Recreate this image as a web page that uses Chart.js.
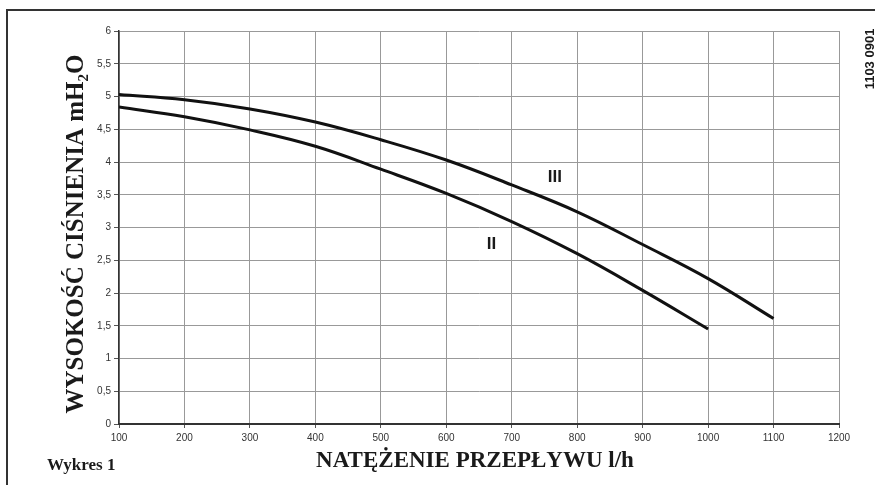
<!DOCTYPE html>
<html>
<head>
<meta charset="utf-8">
<script src="https://cdn.jsdelivr.net/npm/chart.js@4/dist/chart.umd.min.js"></script>
<style>
  html, body { margin: 0; padding: 0; background: #fff; }
  #wrap { width: 875px; height: 485px; }
</style>
</head>
<body>
<div id="wrap"><canvas id="chart" width="875" height="485"></canvas></div>
<script>
// natężenie przepływu (l/h) i wysokość ciśnienia (mH2O)
const flowII = [100, 200, 300, 400, 500, 600, 700, 800, 900, 1000];
const headII = [4.84, 4.69, 4.49, 4.24, 3.89, 3.52, 3.09, 2.60, 2.04, 1.45];

const flowIII = [100, 200, 300, 400, 500, 600, 700, 800, 900, 1000, 1100];
const headIII = [5.03, 4.95, 4.81, 4.61, 4.34, 4.03, 3.65, 3.24, 2.74, 2.22, 1.61];

const curveNames = ['II', 'III'];
const curveLabelX = [669, 766];
const curveLabelY = [2.75, 3.77];

const xMin = 100, xMax = 1200, xStep = 100;
const yMin = 0, yMax = 6, yStep = 0.5;

const xTitle = 'NATĘŻENIE PRZEPŁYWU l/h';
const yTitle = ['WYSOKOŚĆ CIŚNIENIA mH', '2', 'O'];
const chartName = 'Wykres 1';
const docCode = '1103 0901';

const serif = '"Liberation Serif", "DejaVu Serif", serif';
const sans = '"Liberation Sans", Arial, sans-serif';

function toPoints(xs, ys) {
  return xs.map((x, i) => ({ x: x, y: ys[i] }));
}

// napisy, ramka, etykiety krzywych
const textPlugin = {
  id: 'texts',
  afterDraw(chart) {
    const c = chart.ctx;
    const sx = chart.scales.x;
    const sy = chart.scales.y;
    c.save();

    // ramka
    c.strokeStyle = '#333';
    c.lineWidth = 2;
    c.beginPath();
    c.moveTo(7, 485);
    c.lineTo(7, 10);
    c.lineTo(875, 10);
    c.stroke();

    c.fillStyle = '#1a1a1a';

    // tytuł osi X
    c.font = 'bold 23px ' + serif;
    c.textAlign = 'center';
    c.textBaseline = 'alphabetic';
    c.fillText(xTitle, 475, 467);

    // Wykres 1
    c.font = 'bold 17px ' + serif;
    c.textAlign = 'left';
    c.fillText(chartName, 47, 470);

    // tytuł osi Y z indeksem dolnym
    c.save();
    c.translate(83, 0);
    c.rotate(-Math.PI / 2);
    const big = 'bold 25px ' + serif;
    const small = 'bold 15px ' + serif;
    c.font = big;
    const w1 = c.measureText(yTitle[0]).width;
    const w3 = c.measureText(yTitle[2]).width;
    c.font = small;
    const w2 = c.measureText(yTitle[1]).width;
    const total = w1 + w2 + w3;
    let pos = -234 - total / 2;
    c.textAlign = 'left';
    c.font = big;
    c.fillText(yTitle[0], pos, 0);
    pos += w1;
    c.font = small;
    c.fillText(yTitle[1], pos, 5);
    pos += w2;
    c.font = big;
    c.fillText(yTitle[2], pos, 0);
    c.restore();

    // kod rysunku
    c.save();
    c.translate(874, 59);
    c.rotate(-Math.PI / 2);
    c.font = 'bold 13px ' + sans;
    c.textAlign = 'center';
    c.fillText(docCode, 0, 0);
    c.restore();

    // etykiety krzywych
    c.font = 'bold 17px ' + sans;
    c.textAlign = 'center';
    c.textBaseline = 'middle';
    curveNames.forEach((name, i) => {
      c.fillText(name, sx.getPixelForValue(curveLabelX[i]), sy.getPixelForValue(curveLabelY[i]));
    });

    c.restore();
  }
};

const ctx = document.getElementById('chart').getContext('2d');

new Chart(ctx, {
  type: 'line',
  data: {
    datasets: [
      {
        label: 'II',
        data: toPoints(flowII, headII),
        borderColor: '#111',
        borderWidth: 3,
        pointRadius: 0,
        tension: 0.4,
        fill: false,
      },
      {
        label: 'III',
        data: toPoints(flowIII, headIII),
        borderColor: '#111',
        borderWidth: 3,
        pointRadius: 0,
        tension: 0.4,
        fill: false,
      },
    ],
  },
  options: {
    responsive: false,
    animation: false,
    devicePixelRatio: 1,
    layout: { padding: { top: 31, right: 36, left: 0, bottom: 0 } },
    plugins: {
      legend: { display: false },
      tooltip: { enabled: false },
    },
    scales: {
      x: {
        type: 'linear',
        min: xMin,
        max: xMax,
        afterFit(scale) { scale.height = 61; },
        ticks: {
          stepSize: xStep,
          maxRotation: 0,
          padding: 4,
          color: '#333',
          font: { family: sans, size: 10 },
          callback: (v) => String(v),
        },
        grid: { color: '#999', lineWidth: 1, tickLength: 4, tickColor: '#555' },
        border: { display: true, color: '#333', width: 2 },
      },
      y: {
        min: yMin,
        max: yMax,
        afterFit(scale) { scale.width = 119; },
        ticks: {
          stepSize: yStep,
          padding: 3,
          color: '#333',
          font: { family: sans, size: 10 },
          callback: (v) => String(v).replace('.', ','),
        },
        grid: { color: '#999', lineWidth: 1, tickLength: 5, tickColor: '#555' },
        border: { display: true, color: '#333', width: 1.5 },
      },
    },
  },
  plugins: [textPlugin],
});
</script>
</body>
</html>
